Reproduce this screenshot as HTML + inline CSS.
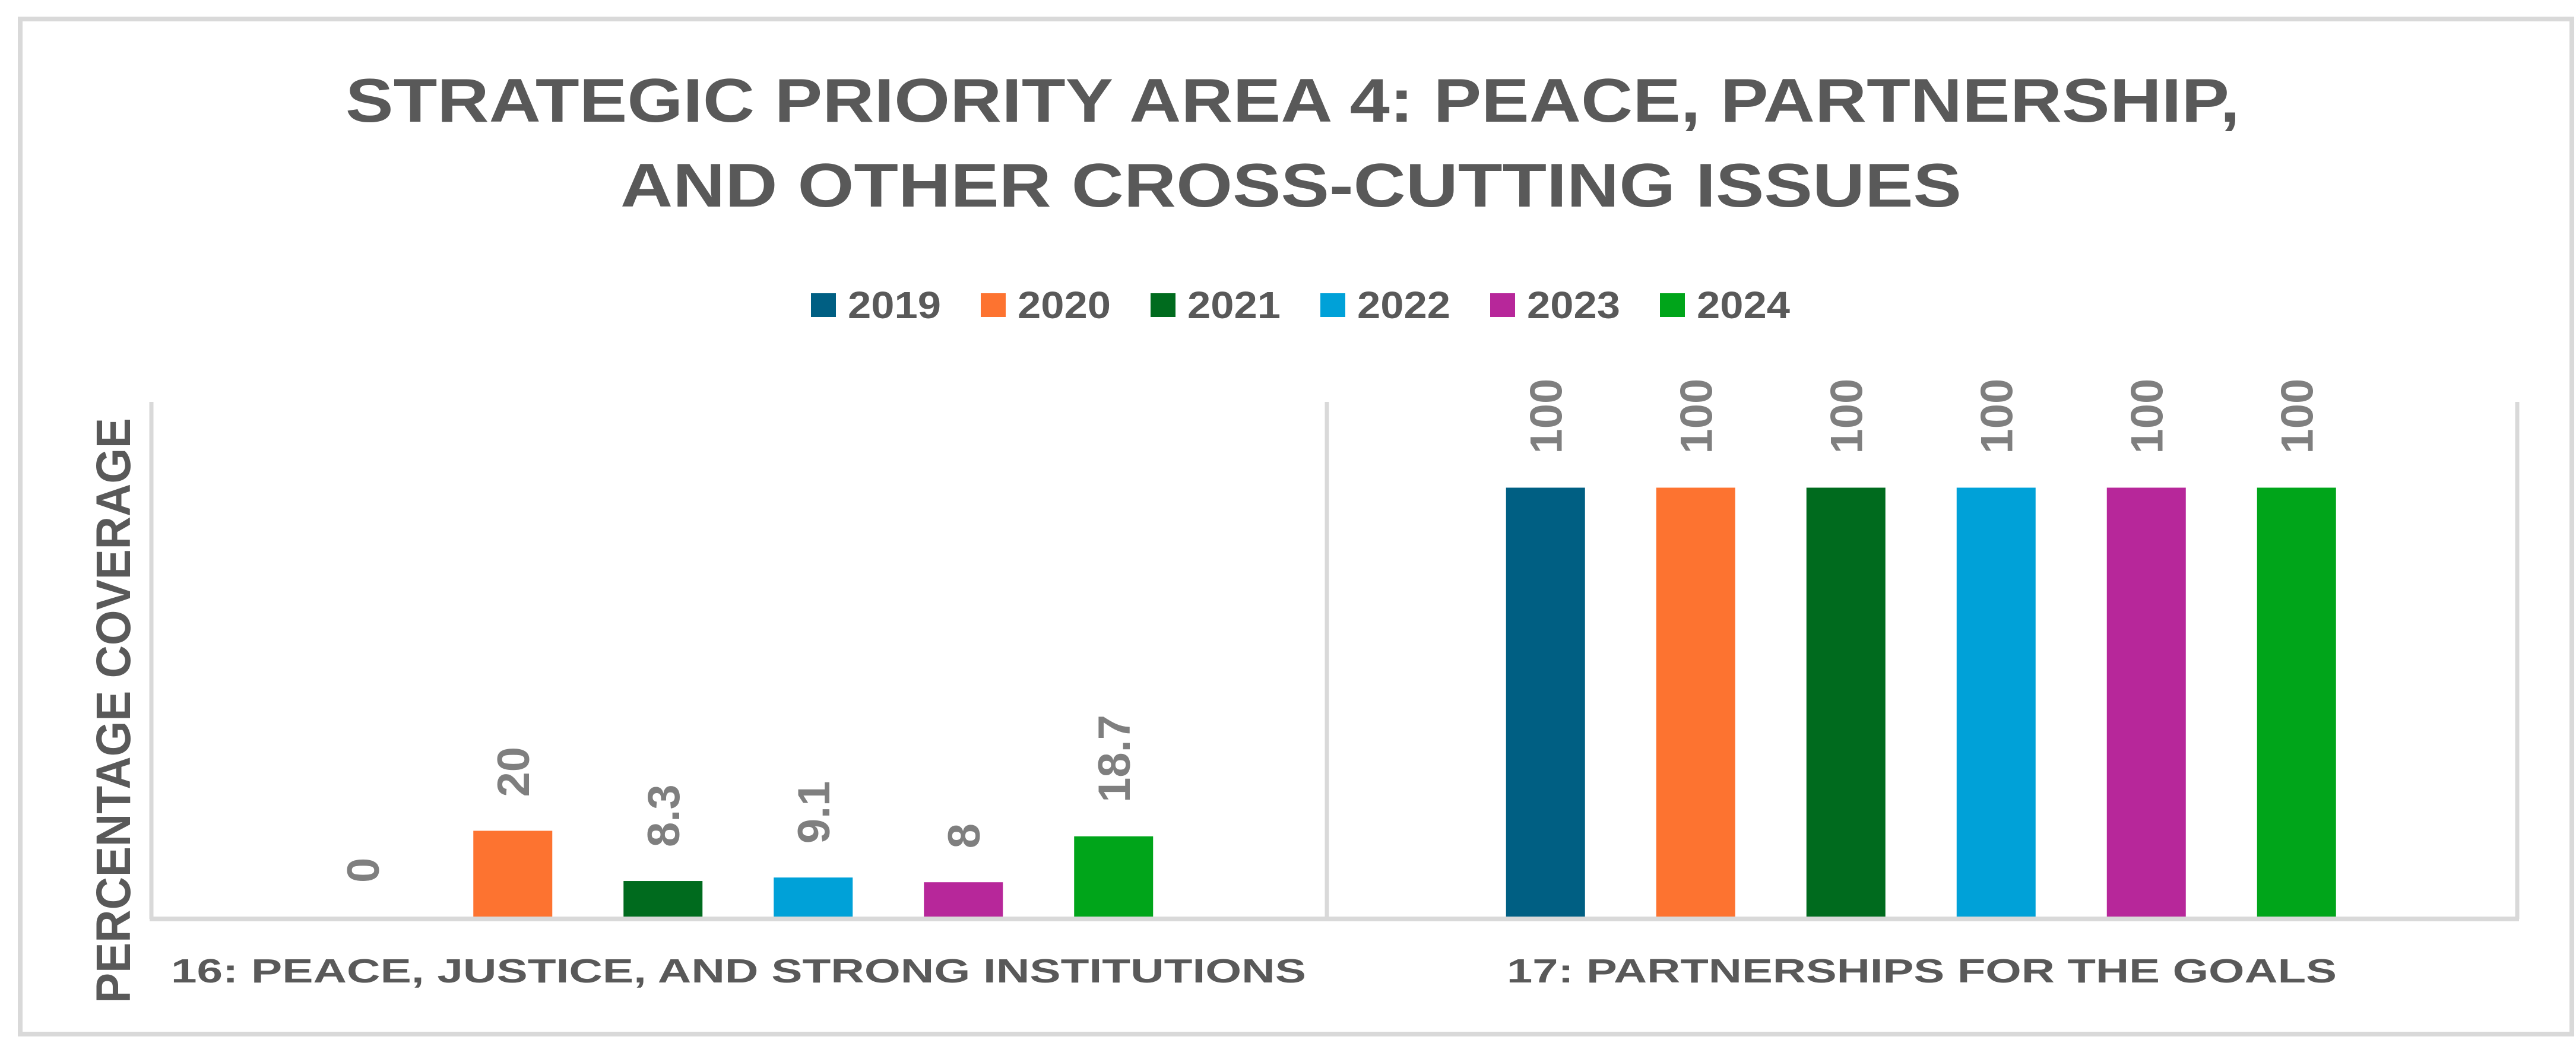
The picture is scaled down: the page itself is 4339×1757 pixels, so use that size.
<!DOCTYPE html>
<html><head><meta charset="utf-8"><style>
html,body{margin:0;padding:0;background:#fff}
svg{display:block}
text{font-family:"Liberation Sans",sans-serif;font-weight:bold}
</style></head><body>
<svg id="chart" width="4339" height="1757" viewBox="0 0 4339 1757" xmlns="http://www.w3.org/2000/svg">
<rect x="34" y="32" width="4298" height="1710" fill="#fff" stroke="#d9d9d9" stroke-width="8"/>
<text x="582" y="205" font-size="104" fill="#595959" textLength="3191" lengthAdjust="spacingAndGlyphs">STRATEGIC PRIORITY AREA 4: PEACE, PARTNERSHIP,</text>
<text x="1045" y="348" font-size="104" fill="#595959" textLength="2259" lengthAdjust="spacingAndGlyphs">AND OTHER CROSS-CUTTING ISSUES</text>
<g id="legend"></g>
<g id="axes">
<line x1="255" y1="677" x2="255" y2="1548" stroke="#d9d9d9" stroke-width="7"/>
<line x1="2235" y1="677" x2="2235" y2="1548" stroke="#d9d9d9" stroke-width="7"/>
<line x1="4240" y1="677" x2="4240" y2="1548" stroke="#d9d9d9" stroke-width="7"/>
<line x1="252" y1="1548" x2="4243" y2="1548" stroke="#d9d9d9" stroke-width="8"/>
</g>
<g id="bars"></g>
<g id="labels"></g>
<text transform="translate(219,1690) rotate(-90)" font-size="82" fill="#595959" textLength="986" lengthAdjust="spacingAndGlyphs">PERCENTAGE COVERAGE</text>
<g id="cats"></g>
</svg>
<script>
const categories = ["16: PEACE, JUSTICE, AND STRONG INSTITUTIONS", "17: PARTNERSHIPS FOR THE GOALS"];
const years = ["2019","2020","2021","2022","2023","2024"];
const colors = ["#005f83","#fd7330","#006b1e","#00a1d8","#b7279a","#00a51a"];
const values2019 = [0, 100];
const values2020 = [20, 100];
const values2021 = [8.3, 100];
const values2022 = [9.1, 100];
const values2023 = [8, 100];
const values2024 = [18.7, 100];
const seriesValues = [values2019, values2020, values2021, values2022, values2023, values2024];
const valueLabels2019 = ["0","100"];
const valueLabels2020 = ["20","100"];
const valueLabels2021 = ["8.3","100"];
const valueLabels2022 = ["9.1","100"];
const valueLabels2023 = ["8","100"];
const valueLabels2024 = ["18.7","100"];
const seriesLabels = [valueLabels2019, valueLabels2020, valueLabels2021, valueLabels2022, valueLabels2023, valueLabels2024];

const NS = "http://www.w3.org/2000/svg";
const plotLeft = 255, plotRight = 4240, baseY = 1544, yMax = 120, plotTop = 677;
const groupW = (plotRight - plotLeft) / categories.length;
const step = 253, barW = 133, xShift = -8;
function yScale(v){ return baseY - (v / yMax) * (baseY - plotTop); }
function xCenter(ci, si){ return plotLeft + xShift + groupW * (ci + 0.5) + (si - (years.length - 1) / 2) * step; }

const bars = document.getElementById('bars');
const labels = document.getElementById('labels');
seriesValues.forEach((vals, si) => {
  vals.forEach((v, ci) => {
    const cx = xCenter(ci, si);
    const y = yScale(v);
    const r = document.createElementNS(NS, 'rect');
    
    
    r.setAttribute('x', cx - barW / 2);
    r.setAttribute('y', y);
    r.setAttribute('width', barW);
    r.setAttribute('height', baseY - y);
    r.setAttribute('fill', colors[si]);
    bars.appendChild(r);
    const t = document.createElementNS(NS, 'text');
    
    
    t.setAttribute('transform', 'translate(' + (cx + 27) + ',' + (y - 57) + ') rotate(-90)');
    t.setAttribute('font-size', '76');
    t.setAttribute('fill', '#7f7f7f');
    t.textContent = seriesLabels[si][ci];
    labels.appendChild(t);
  });
});

const catXs = [[288, 1912], [2538, 1398]];
const cats = document.getElementById('cats');
categories.forEach((c, ci) => {
  const t = document.createElementNS(NS, 'text');
  
  
  t.setAttribute('x', catXs[ci][0]);
  t.setAttribute('y', 1655);
  t.setAttribute('font-size', '57');
  t.setAttribute('fill', '#595959');
  t.setAttribute('textLength', catXs[ci][1]);
  t.setAttribute('lengthAdjust', 'spacingAndGlyphs');
  t.textContent = c;
  cats.appendChild(t);
});

const legend = document.getElementById('legend');
years.forEach((yr, i) => {
  const x0 = 1366 + i * 286;
  const g = document.createElementNS(NS, 'g');
  
  
  const s = document.createElementNS(NS, 'rect');
  
  
  s.setAttribute('x', x0); s.setAttribute('y', 494);
  s.setAttribute('width', 42); s.setAttribute('height', 40);
  s.setAttribute('fill', colors[i]);
  g.appendChild(s);
  const t = document.createElementNS(NS, 'text');
  
  
  t.setAttribute('x', x0 + 62); t.setAttribute('y', 536);
  t.setAttribute('font-size', '64'); t.setAttribute('fill', '#595959');
  t.setAttribute('textLength', 157); t.setAttribute('lengthAdjust', 'spacingAndGlyphs');
  t.textContent = yr;
  g.appendChild(t);
  legend.appendChild(g);
});
</script>
</body></html>
